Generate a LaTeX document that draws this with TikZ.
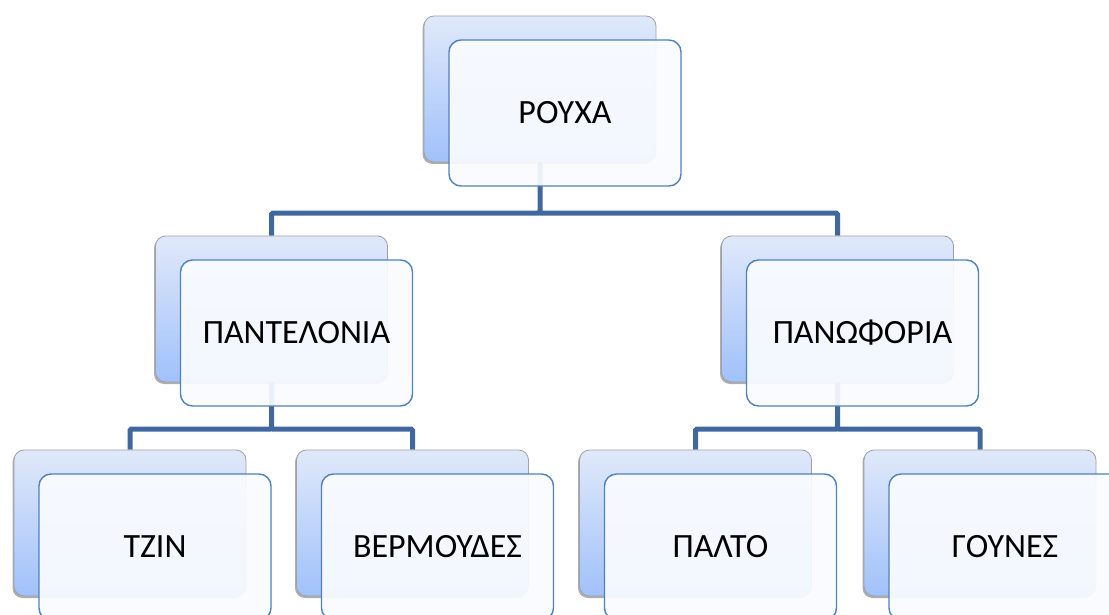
\documentclass[tikz,border=0pt]{standalone}
\usepackage{fontspec}
\setmainfont{Carlito}
\usetikzlibrary{shadows}
\pgfdeclarelayer{background}
\pgfsetlayers{background,main}
\definecolor{connblue}{RGB}{64,104,158}
\definecolor{frameblue}{RGB}{79,129,189}
\definecolor{backtop}{RGB}{224,233,250}
\definecolor{backbot}{RGB}{160,193,250}
\definecolor{backedge}{RGB}{160,160,165}
\definecolor{frontfill}{RGB}{249,251,255}
\tikzset{
  backbox/.style={minimum width=232pt, minimum height=146pt, inner sep=0pt,
    rounded corners=10pt, draw=backedge, line width=0.8pt,
    top color=backtop, bottom color=backbot,
    drop shadow={shadow xshift=-1.5pt, shadow yshift=-2pt, opacity=0.45, fill=black!70}},
  frontbox/.style={minimum width=232pt, minimum height=146pt, inner sep=0pt,
    rounded corners=12pt, draw=frameblue, line width=1.4pt,
    fill=frontfill, fill opacity=0.93, text opacity=1, draw opacity=1,
    font=\fontsize{34}{40}\selectfont},
  conn/.style={draw=connblue, line width=5pt, rounded corners=1.5pt}
}
\begin{document}
\begin{tikzpicture}[x=1pt,y=-1pt]
\useasboundingbox (0,0) rectangle (1109,615);
\clip (0,0) rectangle (1109,615);

% back cards
\node[backbox] (bk-root)   at (540,89)    {};
\node[backbox] (bk-pant)   at (271.5,309) {};
\node[backbox] (bk-pano)   at (837.5,309) {};
\node[backbox] (bk-tzin)   at (130,523)   {};
\node[backbox] (bk-berm)   at (412.5,523) {};
\node[backbox] (bk-palto)  at (695.5,523) {};
\node[backbox] (bk-gounes) at (980,523)   {};

% front cards carrying the labels
\node[frontbox] (fr-root)   at ([shift={(25,24)}]bk-root.center)   {ΡΟΥΧΑ};
\node[frontbox] (fr-pant)   at ([shift={(25,24)}]bk-pant.center)   {ΠΑΝΤΕΛΟΝΙΑ};
\node[frontbox] (fr-pano)   at ([shift={(25,24)}]bk-pano.center)   {ΠΑΝΩΦΟΡΙΑ};
\node[frontbox] (fr-tzin)   at ([shift={(25,24)}]bk-tzin.center)   {ΤΖΙΝ};
\node[frontbox] (fr-berm)   at ([shift={(25,24)}]bk-berm.center)   {ΒΕΡΜΟΥΔΕΣ};
\node[frontbox] (fr-palto)  at ([shift={(25,24)}]bk-palto.center)  {ΠΑΛΤΟ};
\node[frontbox] (fr-gounes) at ([shift={(25,24)}]bk-gounes.center) {ΓΟΥΝΕΣ};

% branching points of the tree
\coordinate (hub-root) at (540,213);
\coordinate (hub-pant) at (271.5,429);
\coordinate (hub-pano) at (837.5,429);

% connectors, behind the cards
\begin{pgfonlayer}{background}
  \draw[conn] (bk-root.center) -- (hub-root) -| (bk-pant.north);
  \draw[conn] (hub-root) -| (bk-pano.north);
  \draw[conn] (bk-pant.center) -- (hub-pant) -| (bk-tzin.north);
  \draw[conn] (hub-pant) -| (bk-berm.north);
  \draw[conn] (bk-pano.center) -- (hub-pano) -| (bk-palto.north);
  \draw[conn] (hub-pano) -| (bk-gounes.north);
\end{pgfonlayer}
\end{tikzpicture}
\end{document}
